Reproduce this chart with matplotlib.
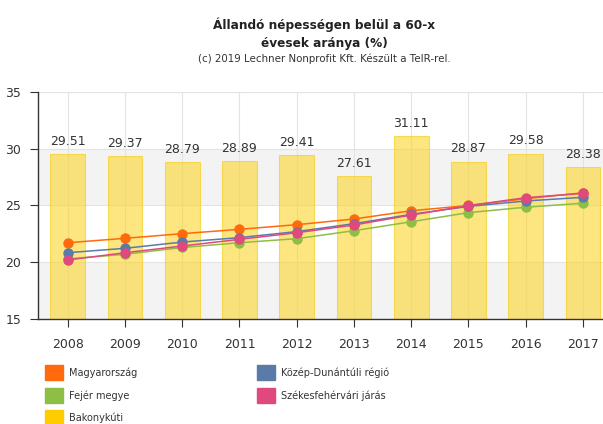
import matplotlib

matplotlib.use("Agg")

import matplotlib.pyplot as plt

plt.rcParams["font.family"] = ["DejaVu Sans"]

years = ["2008", "2009", "2010", "2011", "2012", "2013", "2014", "2015", "2016", "2017"]
bakonykuti = [29.51, 29.37, 28.79, 28.89, 29.41, 27.61, 31.11, 28.87, 29.58, 28.38]
magyarorszag = [21.72, 22.11, 22.52, 22.90, 23.31, 23.81, 24.54, 25.00, 25.60, 26.12]
kozep_dunantul = [20.84, 21.23, 21.78, 22.17, 22.70, 23.40, 24.22, 24.92, 25.40, 25.72]
fejer = [20.30, 20.70, 21.30, 21.72, 22.08, 22.78, 23.57, 24.37, 24.85, 25.20]
szekesfehervar = [20.20, 20.84, 21.43, 22.02, 22.60, 23.28, 24.16, 24.99, 25.69, 26.07]

series = [
    ("Magyarország", magyarorszag, "#FF6A0D"),
    ("Fejér megye", fejer, "#8DBE45"),
    ("Közép-Dunántúli régió", kozep_dunantul, "#5A7BA8"),
    ("Székesfehérvári járás", szekesfehervar, "#E0497E"),
]

fig = plt.figure(figsize=(6.03, 4.24), dpi=100)
ax = fig.add_axes([38 / 603, 1 - 319 / 424, 565 / 603, 227 / 424])

x = list(range(len(years)))

# alternating background bands
for lo, hi in [(15, 20), (25, 30)]:
    ax.axhspan(lo, hi, color="#F3F3F3", zorder=0, lw=0)
for v in [15, 20, 25, 30, 35]:
    ax.axhline(v, color="#E3E3E3", lw=0.8, zorder=0.5)
for xi in x:
    ax.axvline(xi, color="#E3E3E3", lw=0.8, zorder=0.5)

ax.bar(x, bakonykuti, width=0.61, color="#FCD52C", alpha=0.6,
       edgecolor="#F5CC00", linewidth=0.8, zorder=2)
for xi, v in zip(x, bakonykuti):
    ax.text(xi, v + 0.55, f"{v:.2f}", ha="center", va="bottom",
            fontsize=9, color="#333333", zorder=5)

# draw order: green, blue, orange, pink on top
for idx in [1, 2, 0, 3]:
    name, vals, col = series[idx]
    ax.plot(x, vals, color=col, lw=1.1, marker="o", markersize=7.5,
            markeredgewidth=0, zorder=3 + idx * 0.1)

ax.set_xlim(-0.52, 9.35)
ax.set_ylim(15, 35)
ax.set_yticks([15, 20, 25, 30, 35])
ax.set_xticks(x)
ax.set_xticklabels(years)
ax.tick_params(axis="both", labelsize=9, colors="#333333", length=6,
               width=0.8, direction="out")
ax.tick_params(axis="y", pad=6)
ax.tick_params(axis="x", pad=8)
for s in ["top", "right"]:
    ax.spines[s].set_visible(False)
for s in ["left", "bottom"]:
    ax.spines[s].set_color("#333333")
    ax.spines[s].set_linewidth(1.0)

title_x = 324 / 603
fig.text(title_x, 1 - 25 / 424, "Állandó népességen belül a 60-x", ha="center",
         va="center", fontsize=8.7, fontweight="bold", color="#222222")
fig.text(title_x, 1 - 43 / 424, "évesek aránya (%)", ha="center",
         va="center", fontsize=8.7, fontweight="bold", color="#222222")
fig.text(title_x, 1 - 59 / 424, "(c) 2019 Lechner Nonprofit Kft. Készült a TeIR-rel.",
         ha="center", va="center", fontsize=7.4, color="#333333")

legend_items = [
    ("Magyarország", "#FF6A0D", 45, 373),
    ("Fejér megye", "#8DBE45", 45, 396),
    ("Bakonykúti", "#FFCC00", 45, 418),
    ("Közép-Dunántúli régió", "#5A7BA8", 257, 373),
    ("Székesfehérvári járás", "#E0497E", 257, 396),
]
for label, col, px, py in legend_items:
    fig.patches.append(plt.Rectangle((px / 603, 1 - (py + 7) / 424), 18 / 603,
                                     15 / 424, transform=fig.transFigure,
                                     color=col, figure=fig))
    fig.text((px + 24) / 603, 1 - py / 424, label, ha="left", va="center",
             fontsize=7, color="#333333")

fig.savefig("out.png", dpi=100)
